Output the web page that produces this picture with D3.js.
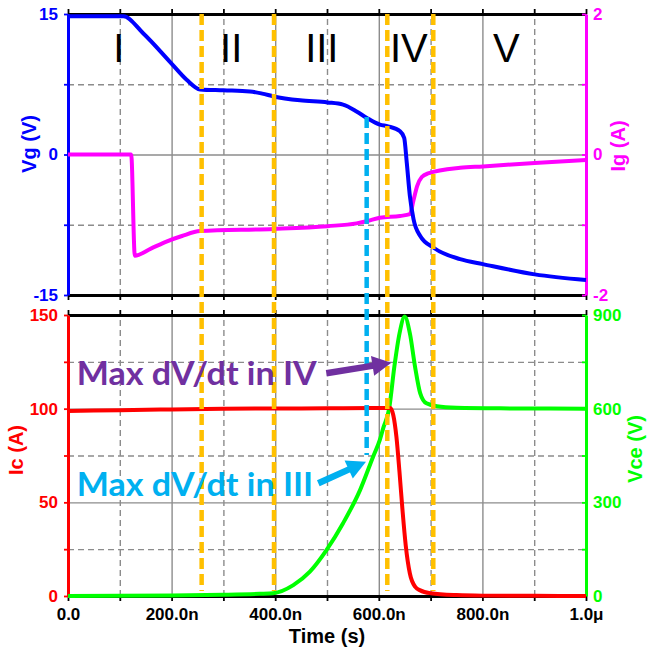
<!DOCTYPE html>
<html>
<head>
<meta charset="utf-8">
<script src="https://cdn.jsdelivr.net/npm/d3@7"></script>
<style>
  body { margin: 0; background: #fff; }
  svg { display: block; }
</style>
</head>
<body>
<svg id="chart" width="649" height="649"></svg>
<script>
// ---- data (time in ns) ----
const tVg  = [0, 107, 145, 199, 229, 255, 300, 351, 375, 397, 448, 501, 531, 557, 577, 602, 618, 641, 649, 654, 660, 667, 680, 705, 757, 801, 901, 1000];
const vg   = [14.75, 14.75, 12.95, 9.76, 7.98, 6.95, 6.85, 6.73, 6.5, 6.2, 5.78, 5.56, 5.32, 4.6, 3.9, 3.19, 3.0, 2.48, 1.78, -0.88, -4.43, -6.9, -8.7, -9.93, -11.17, -11.7, -12.8, -13.4];

const tIg  = [0, 122, 129, 160, 190, 220, 255, 397, 501, 557, 577, 602, 641, 660, 667, 674, 683, 695, 757, 801, 901, 1000];
const ig   = [0, 0, -1.44, -1.34, -1.24, -1.16, -1.09, -1.06, -1.02, -0.98, -0.95, -0.90, -0.875, -0.85, -0.65, -0.45, -0.32, -0.27, -0.19, -0.17, -0.12, -0.08];

const tIc  = [0, 100, 200, 300, 400, 500, 600, 622, 628, 634, 640, 646, 652, 660, 670, 680, 700, 750, 800, 900, 1000];
const ic   = [98.8, 99.2, 99.6, 99.9, 100.1, 100.2, 100.4, 100.3, 96.5, 85, 66, 45, 27, 12, 5, 3, 1.5, 0.5, 0.2, 0.1, 0];

const tVce = [0, 200, 300, 370, 396, 435, 467, 499, 531, 564, 589, 602, 609, 620, 630, 640, 650, 660, 670, 680, 692, 712, 750, 834, 1000];
const vce  = [0, 2, 4, 7, 9, 35, 78, 147, 233, 340, 446, 500, 540, 600, 734, 841, 895, 841, 734, 649, 617, 608, 603, 601, 600];

// ---- ticks and labels ----
const xTicks = [0, 200, 400, 600, 800, 1000];
const xTickLabels = ["0.0", "200.0n", "400.0n", "600.0n", "800.0n", "1.0\u03bc"];
const vgTicks = [-15, 0, 15];
const igTicks = [-2, 0, 2];
const icTicks = [0, 50, 100, 150];
const vceTicks = [0, 300, 600, 900];

// switching phases
const phaseNames = ["I", "II", "III", "IV", "V"];
const phaseLabelTimes = [98, 315, 490, 658, 846];
const phaseBounds = [258, 397.7, 616.4, 705.2];
const maxDvdtIII = 576.6;

// ---- layout ----
const L = 68, R = 586;
const top1 = 14, bot1 = 295, top2 = 315, bot2 = 596;
const FONT = "'Liberation Sans', Arial, Helvetica, sans-serif";

const x = d3.scaleLinear([0, 1000], [L, R]);
const yVg = d3.scaleLinear([-15, 15], [bot1, top1]);
const yIg = d3.scaleLinear([-2, 2], [bot1, top1]);
const yIc = d3.scaleLinear([0, 150], [bot2, top2]);
const yVce = d3.scaleLinear([0, 900], [bot2, top2]);

const svg = d3.select("#chart");
const minorX = d3.range(0, 1001, 100);

// ---- grid ----
function grid(yScale, top, bot, solidY, dashedY) {
  const g = svg.append("g");
  const solidX = [200, 400, 600, 800];
  const dashedX = [100, 300, 500, 700, 900];
  const vAxis = (vals, dash) => {
    const a = g.append("g").attr("transform", `translate(0,${bot})`)
      .call(d3.axisBottom(x).tickValues(vals).tickSize(-(bot - top)).tickFormat(""));
    a.select(".domain").remove();
    a.selectAll("line").attr("stroke", "#8c8c8c").attr("stroke-width", 1.4)
      .attr("stroke-dasharray", dash);
  };
  const hAxis = (vals, dash) => {
    const a = g.append("g").attr("transform", `translate(${L},0)`)
      .call(d3.axisLeft(yScale).tickValues(vals).tickSize(-(R - L)).tickFormat(""));
    a.select(".domain").remove();
    a.selectAll("line").attr("stroke", "#8c8c8c").attr("stroke-width", 1.4)
      .attr("stroke-dasharray", dash);
  };
  vAxis(solidX, null);
  vAxis(dashedX, "6,4");
  hAxis(solidY, null);
  hAxis(dashedY, "6,4");
}
grid(yVg, top1, bot1, [0], [-7.5, 7.5]);
grid(yIc, top2, bot2, [50, 100], [25, 75, 125]);

// ---- borders and axes ----
function hBorder(y, axisFn, size) {
  const a = svg.append("g").attr("transform", `translate(0,${y})`)
    .call(axisFn(x).tickValues(minorX).tickSize(size).tickSizeOuter(0).tickFormat(""));
  a.select(".domain").attr("stroke", "#000").attr("stroke-width", 3);
  a.selectAll(".tick line").attr("stroke", "#000").attr("stroke-width", 1.8);
  return a;
}
hBorder(top1, d3.axisBottom, -5);
hBorder(bot1, d3.axisTop, -5);
hBorder(top2, d3.axisBottom, -5);
hBorder(bot2, d3.axisBottom, 5);

// x tick labels
svg.append("g").attr("transform", `translate(0,${bot2})`)
  .call(d3.axisBottom(x).tickValues(xTicks).tickSize(0).tickPadding(12)
    .tickFormat((d, i) => xTickLabels[i]))
  .call(g => g.select(".domain").remove())
  .selectAll("text")
  .attr("font-family", FONT).attr("font-weight", "bold").attr("font-size", 17)
  .attr("fill", "#000");

function vAxis(scale, side, xPos, color, minor, labels) {
  const fn = side === "left" ? d3.axisLeft : d3.axisRight;
  const a = svg.append("g").attr("transform", `translate(${xPos},0)`)
    .style("color", color)
    .call(fn(scale).tickValues(minor).tickSize(side === "left" ? 4 : -4).tickSizeOuter(0)
      .tickPadding(side === "left" ? 6 : 7)
      .tickFormat(d => labels.includes(d) ? String(d) : ""));
  a.select(".domain").attr("stroke-width", 3);
  a.selectAll(".tick line").attr("stroke-width", 1.8);
  a.selectAll("text").attr("font-family", FONT).attr("font-weight", "bold")
    .attr("font-size", 17);
  return a;
}
vAxis(yVg, "left", L, "#0000ff", [-15, -7.5, 0, 7.5, 15], vgTicks);
vAxis(yIg, "right", R, "#ff00ff", [-2, -1, 0, 1, 2], igTicks);
vAxis(yIc, "left", L, "#ff0000", [0, 25, 50, 75, 100, 125, 150], icTicks);
vAxis(yVce, "right", R, "#00ff00", [0, 150, 300, 450, 600, 750, 900], vceTicks);

// ---- series ----
function series(ts, vs, yScale, color) {
  const line = d3.line().x(d => x(d[0])).y(d => yScale(d[1])).curve(d3.curveMonotoneX);
  svg.append("path").datum(d3.zip(ts, vs)).attr("d", line)
    .attr("fill", "none").attr("stroke", color).attr("stroke-width", 4)
    .attr("stroke-linejoin", "round").attr("stroke-linecap", "butt");
}
series(tIg, ig, yIg, "#ff00ff");
series(tVg, vg, yVg, "#0000ff");
series(tVce, vce, yVce, "#00ff00");
series(tIc, ic, yIc, "#ff0000");

// ---- phase boundaries ----
svg.append("g").selectAll("line").data(phaseBounds).join("line")
  .attr("x1", d => x(d)).attr("x2", d => x(d))
  .attr("y1", top1).attr("y2", 591)
  .attr("stroke", "#ffc000").attr("stroke-width", 4.5).attr("stroke-dasharray", "11,5");

// max dV/dt marker in phase III: from the Vg curve down into the lower panel
svg.append("line")
  .attr("x1", x(maxDvdtIII)).attr("x2", x(maxDvdtIII))
  .attr("y1", 117).attr("y2", 455)
  .attr("stroke", "#00b0f0").attr("stroke-width", 4.5).attr("stroke-dasharray", "11,5");

// phase names
svg.append("g").selectAll("text").data(phaseNames).join("text")
  .attr("x", (d, i) => x(phaseLabelTimes[i])).attr("y", 62)
  .attr("text-anchor", "middle")
  .attr("font-family", FONT).attr("font-size", 40).attr("fill", "#000")
  .text(d => d);

// ---- annotations ----
function arrow(t0, v0, t1, v1, color) {
  const x0 = x(t0), y0 = yIc(v0), x1 = x(t1), y1 = yIc(v1);
  const ang = Math.atan2(y1 - y0, x1 - x0);
  const headLen = 19, headHalf = 10;
  const bx = x1 - headLen * Math.cos(ang), by = y1 - headLen * Math.sin(ang);
  svg.append("line").attr("x1", x0).attr("y1", y0).attr("x2", bx + Math.cos(ang)).attr("y2", by + Math.sin(ang))
    .attr("stroke", color).attr("stroke-width", 6.5);
  const px = -Math.sin(ang) * headHalf, py = Math.cos(ang) * headHalf;
  svg.append("path")
    .attr("d", `M${x1},${y1}L${bx + px},${by + py}L${bx - px},${by - py}Z`)
    .attr("fill", color);
}

const annFont = "Lato, 'Open Sans', 'Noto Sans', sans-serif";
svg.append("text").attr("x", x(16.8)).attr("y", yIc(112.6))
  .attr("font-family", annFont).attr("font-weight", "bold").attr("font-size", 33)
  .attr("fill", "#7030a0").attr("textLength", 240).attr("lengthAdjust", "spacingAndGlyphs")
  .text("Max dV/dt in IV");
arrow(498.7, 118.9, 624.2, 124.5, "#7030a0");

svg.append("text").attr("x", x(16.8)).attr("y", yIc(53.4))
  .attr("font-family", annFont).attr("font-weight", "bold").attr("font-size", 33)
  .attr("fill", "#00b0f0").attr("textLength", 236.5).attr("lengthAdjust", "spacingAndGlyphs")
  .text("Max dV/dt in III");
arrow(483.2, 60.2, 575.3, 71.7, "#00b0f0");

// ---- axis titles ----
function title(txt, tx, ty, color, rotate) {
  svg.append("text")
    .attr("transform", `translate(${tx},${ty})` + (rotate ? " rotate(-90)" : ""))
    .attr("text-anchor", "middle")
    .attr("font-family", FONT).attr("font-weight", "bold").attr("font-size", 20)
    .attr("fill", color).text(txt);
}
title("Vg (V)", 36, 144, "#0000ff", true);
title("Ig (A)", 625, 146, "#ff00ff", true);
title("Ic (A)", 23, 450, "#ff0000", true);
title("Vce (V)", 642, 449, "#00ff00", true);
title("Time (s)", 327, 643, "#000", false);
</script>
</body>
</html>
